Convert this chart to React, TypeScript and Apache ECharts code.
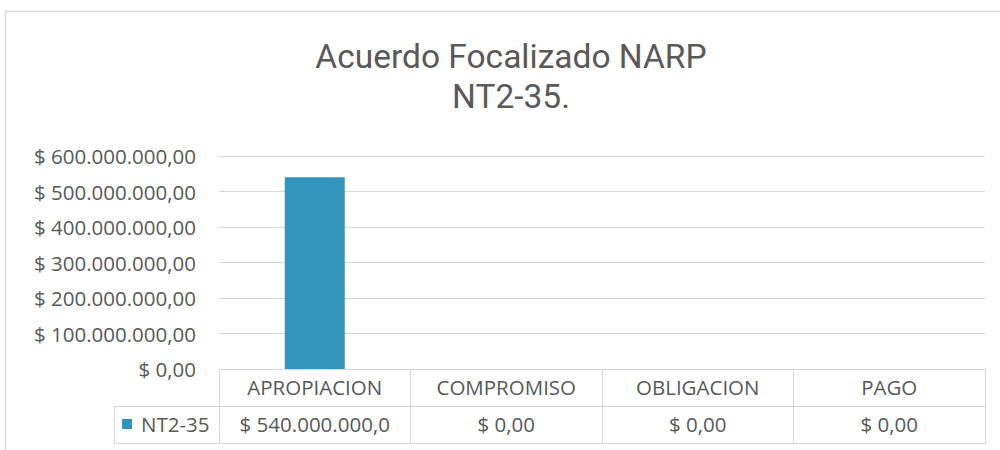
import React, { useEffect, useRef } from "react";
import * as echarts from "echarts";

const titleLines = ["Acuerdo Focalizado NARP", "NT2-35."];
const categories = ["APROPIACION", "COMPROMISO", "OBLIGACION", "PAGO"];
const seriesName = "NT2-35";
const seriesValues = [540000000, 0, 0, 0];
const yMin = 0;
const yMax = 600000000;
const yInterval = 100000000;

const FONT = "Open Sans";
const TITLE_FONT = "Roboto";
const TEXT = "#595959";
const LINE = "#d9d9d9";
const BAR = "#3394BC";
const LABEL_SIZE = 20.5;

function money(v: number): string {
  const fixed = Math.abs(v).toFixed(2);
  const [int, dec] = fixed.split(".");
  const withDots = int.replace(/\B(?=(\d{3})+(?!\d))/g, ".");
  return "$ " + (v < 0 ? "-" : "") + withDots + "," + dec;
}

export default function App() {
  const ref = useRef<HTMLDivElement>(null);
  useEffect(() => {
    if (!ref.current) return;
    const chart = echarts.init(ref.current, null, { renderer: "svg" });
    const gridLeft = 219;
    const gridRight = 985;
    const axisY = 369;
    const rowH = 37;
    chart.setOption({
      animation: false,
      backgroundColor: "#ffffff",
      textStyle: { fontFamily: FONT },
      title: titleLines.map((t, i) => ({
        text: t,
        left: 511,
        top: 37 + i * 40,
        padding: 0,
        textAlign: "center",
        textStyle: {
          fontFamily: TITLE_FONT,
          fontSize: 33.5,
          fontWeight: "normal",
          color: TEXT,
          lineHeight: 39,
        },
      })),
      grid: { left: gridLeft, right: 1000 - gridRight, top: 156, bottom: 450 - axisY },
      xAxis: [
        {
          type: "category",
          data: categories,
          position: "bottom",
          axisLine: { show: true, lineStyle: { color: LINE, width: 1 } },
          axisTick: { show: true, length: rowH * 2 + 1, lineStyle: { color: LINE, width: 1 } },
          axisLabel: { interval: 0, color: TEXT, fontSize: LABEL_SIZE, fontFamily: FONT, margin: 7 },
        },
        {
          type: "category",
          data: seriesValues.map((v) => {
            const s = money(v);
            return s.length > 15 ? s.slice(0, 15) : s;
          }),
          position: "bottom",
          offset: rowH,
          axisLine: { show: false },
          axisTick: { show: false },
          axisLabel: { interval: 0, color: TEXT, fontSize: LABEL_SIZE, fontFamily: FONT, margin: 7 },
        },
      ],
      yAxis: {
        type: "value",
        min: yMin,
        max: yMax,
        interval: yInterval,
        axisLine: { show: false },
        axisTick: { show: false },
        splitLine: { lineStyle: { color: LINE, width: 1 } },
        axisLabel: { color: TEXT, fontSize: LABEL_SIZE, fontFamily: FONT, margin: 23, formatter: (v: number) => money(v) },
      },
      series: [
        {
          name: seriesName,
          type: "bar",
          data: seriesValues,
          xAxisIndex: 0,
          barWidth: 60,
          itemStyle: { color: BAR },
        },
      ],
      graphic: [
        {
          type: "polyline",
          shape: { points: [[5.5, 450], [5.5, 11.5], [1000, 11.5]] },
          style: { stroke: LINE, lineWidth: 1.5, fill: "none" },
          silent: true,
        },
        {
          type: "line",
          shape: { x1: 114, y1: axisY + rowH + 0.5, x2: gridRight, y2: axisY + rowH + 0.5 },
          style: { stroke: LINE, lineWidth: 1 },
        },
        {
          type: "line",
          shape: { x1: 114, y1: axisY + rowH * 2 + 0.5, x2: gridRight, y2: axisY + rowH * 2 + 0.5 },
          style: { stroke: LINE, lineWidth: 1 },
        },
        {
          type: "line",
          shape: { x1: 114.5, y1: axisY + rowH, x2: 114.5, y2: axisY + rowH * 2 + 1 },
          style: { stroke: LINE, lineWidth: 1 },
        },
        {
          type: "rect",
          shape: { x: 122, y: 419, width: 10, height: 10 },
          style: { fill: BAR },
        },
        {
          type: "text",
          x: 141,
          y: 424,
          style: {
            text: seriesName,
            fill: TEXT,
            fontSize: LABEL_SIZE,
            fontFamily: FONT,
            verticalAlign: "middle",
            align: "left",
          },
        },
      ],
    });
    return () => chart.dispose();
  }, []);
  return (
    <div
      ref={ref}
      style={{ position: "fixed", left: 0, top: 0, width: 1000, height: 450 }}
    />
  );
}
